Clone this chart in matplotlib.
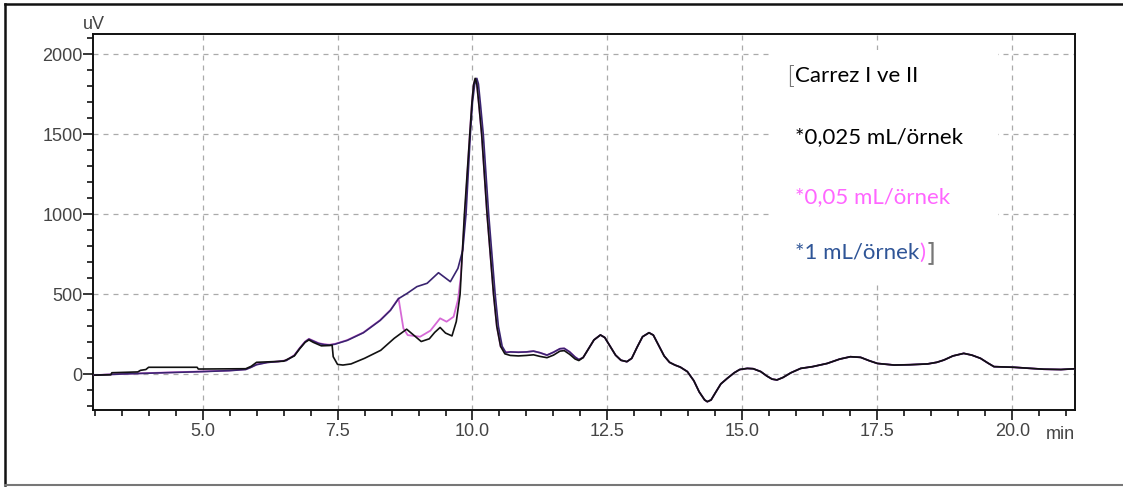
import matplotlib
matplotlib.use("Agg")
import matplotlib.pyplot as plt
from matplotlib.ticker import MultipleLocator, FixedLocator
from matplotlib.patches import Rectangle
from matplotlib.lines import Line2D

plt.rcParams["font.family"] = ["Liberation Sans", "DejaVu Sans"]

# retention time (min) and detector signal (uV) for the three Carrez volumes
# 0,025 mL/örnek
t_black = [3.0, 3.3, 3.32, 3.8, 3.85, 3.95, 4.0, 4.9, 4.92, 5.8, 5.9, 6.0, 6.5,
           6.7, 6.8, 6.9, 6.97, 7.05, 7.2, 7.35, 7.40, 7.42, 7.5, 7.6, 7.75,
           8.0, 8.3, 8.55, 8.78, 8.9, 9.05, 9.2, 9.3, 9.4, 9.5, 9.62, 9.7,
           9.77, 9.85, 9.95, 9.99, 10.02, 10.05, 10.08, 10.12, 10.17, 10.22,
           10.27, 10.33, 10.39, 10.45, 10.52, 10.6]
v_black = [-5, -3, 10, 15, 25, 30, 44, 44, 33, 35, 50, 75, 82,
           115, 160, 200, 215, 200, 178, 180, 182, 110, 62, 58, 65,
           100, 150, 225, 282, 248, 205, 222, 262, 293, 258, 240, 330,
           500, 1000, 1500, 1700, 1810, 1850, 1815, 1680, 1500, 1250,
           1000, 750, 500, 300, 175, 128]

# 0,05 mL/örnek
t_pink = [3.0, 3.5, 4.0, 4.5, 5.0, 5.5, 5.8, 5.9, 6.0, 6.2, 6.4, 6.55, 6.7,
          6.8, 6.9, 6.97, 7.05, 7.15, 7.25, 7.35, 7.45, 7.68, 7.98, 8.29,
          8.48, 8.63, 8.72, 8.8, 9.03, 9.22, 9.4, 9.52, 9.65, 9.73, 9.78,
          9.86, 9.95, 9.99, 10.02, 10.05, 10.08, 10.12, 10.17, 10.22, 10.27,
          10.33, 10.39, 10.45, 10.52, 10.6]
v_pink = [-5, 3, 8, 13, 18, 24, 32, 45, 62, 75, 80, 88, 120,
          165, 205, 222, 210, 195, 188, 185, 190, 214, 262, 339,
          402, 475, 287, 245, 235, 273, 350, 329, 360, 464, 600,
          1000, 1500, 1700, 1810, 1845, 1815, 1680, 1500, 1250, 1000,
          750, 500, 300, 175, 140]

# 1 mL/örnek
t_blue = [3.0, 3.5, 4.0, 4.5, 5.0, 5.5, 5.8, 5.9, 6.0, 6.2, 6.4, 6.55, 6.7,
          6.8, 6.9, 6.97, 7.05, 7.15, 7.25, 7.35, 7.45, 7.68, 7.98, 8.29,
          8.48, 8.63, 8.79, 8.97, 9.16, 9.37, 9.59, 9.73, 9.82, 9.88, 9.96,
          10.0, 10.04, 10.08, 10.11, 10.15, 10.2, 10.25, 10.3, 10.36, 10.42,
          10.48, 10.55, 10.62]
v_blue = [-5, 2, 7, 12, 17, 23, 30, 44, 60, 74, 80, 86, 118,
          163, 203, 220, 208, 193, 186, 183, 188, 212, 260, 337,
          400, 473, 506, 548, 569, 635, 579, 662, 777, 1000, 1500,
          1700, 1810, 1850, 1815, 1680, 1500, 1250, 1000, 750, 500,
          300, 175, 135]

# common tail after the main peak (upper / lower trace on the plateau)
t_plateau = [10.7, 10.85, 11.0, 11.13, 11.25, 11.38, 11.5, 11.62, 11.7,
             11.8, 11.9, 11.97]
v_plateau_hi = [140, 138, 140, 145, 135, 120, 138, 160, 162, 140, 108, 92]
v_plateau_lo = [118, 115, 118, 122, 112, 104, 120, 145, 148, 125, 96, 86]

t_tail = [12.05, 12.15, 12.25, 12.37, 12.45, 12.55, 12.65, 12.75, 12.86,
          12.95, 13.05, 13.15, 13.27, 13.35, 13.45, 13.55, 13.65, 13.75,
          13.85, 13.98, 14.1, 14.2, 14.3, 14.35, 14.42, 14.5, 14.6, 14.72,
          14.85, 14.95, 15.09, 15.2, 15.34, 15.45, 15.55, 15.64, 15.75,
          15.9, 16.08, 16.3, 16.57, 16.8, 17.0, 17.19, 17.35, 17.5, 17.81,
          18.1, 18.43, 18.6, 18.73, 18.9, 19.1, 19.25, 19.41, 19.55, 19.66,
          20.03, 20.3, 20.58, 20.9, 21.17]
v_tail = [105, 160, 215, 246, 230, 175, 120, 88, 79,
          100, 170, 235, 260, 245, 180, 115, 75, 58,
          45, 17, -40, -110, -160, -171, -160, -115, -60, -25,
          10, 30, 37, 35, 17, -10, -30, -35, -20,
          10, 37, 48, 68, 95, 110, 106, 85, 68, 58,
          60, 65, 75, 89, 115, 131, 120, 100, 70, 48,
          44, 38, 32, 30, 35]

x_ticks = [5.0, 7.5, 10.0, 12.5, 15.0, 17.5, 20.0]
x_labels = ["5.0", "7.5", "10.0", "12.5", "15.0", "17.5", "20.0"]
y_ticks = [0, 500, 1000, 1500, 2000]

legend_lines = ["Carrez I ve II", "*0,025 mL/örnek", "*0,05 mL/örnek", "*1 mL/örnek"]
legend_colors = ["#000000", "#000000", "#ff66ff", "#2f5597"]

fig = plt.figure(figsize=(11.23, 4.87), dpi=100)
ax = fig.add_axes([0.0828, 0.1581, 0.8749, 0.7721])

ax.plot(t_pink + t_plateau + t_tail, v_pink + v_plateau_hi + v_tail,
        color="#d66ad6", lw=1.3, zorder=3)
ax.plot(t_blue + t_plateau + t_tail, v_blue + v_plateau_hi + v_tail,
        color="#3a2470", lw=1.2, zorder=4)
ax.plot(t_black + t_plateau + t_tail, v_black + v_plateau_lo + v_tail,
        color="#111111", lw=1.2, zorder=5)

ax.set_xlim(2.97, 21.17)
ax.set_ylim(-223, 2127)

ax.xaxis.set_major_locator(FixedLocator(x_ticks))
ax.set_xticklabels(x_labels)
ax.xaxis.set_minor_locator(MultipleLocator(0.5))
ax.yaxis.set_major_locator(FixedLocator(y_ticks))
ax.yaxis.set_minor_locator(MultipleLocator(100))

ax.tick_params(which="major", direction="out", length=7, width=1.1,
               labelsize=13, labelcolor="#444444", pad=2)
ax.tick_params(which="minor", direction="out", length=4, width=1.1)
ax.tick_params(axis="y", pad=0.5)

for sp in ax.spines.values():
    sp.set_linewidth(1.4)
    sp.set_color("#111111")

ax.grid(True, which="major", color="#aaaaaa", lw=0.9, ls=(0, (4, 4)))
ax.set_axisbelow(True)

ax.text(-0.01, 1.024, "uV", transform=ax.transAxes, fontsize=13,
        color="#444444", ha="left", va="center")
ax.text(0.985, -0.042, "min", transform=ax.transAxes, fontsize=13,
        color="#444444", ha="center", va="top")

# white label box over the grid
ax.add_patch(Rectangle((0.692, 0.332), 0.229, 0.625, transform=ax.transAxes,
                       facecolor="white", edgecolor="none", zorder=2))
y_pos = [0.888, 0.726, 0.566, 0.418]
txts = []
for s, c, y in zip(legend_lines, legend_colors, y_pos):
    txts.append(ax.text(0.7145, y, s, transform=ax.transAxes, color=c,
                        fontsize=16, family="Lato", va="center", zorder=6))
ax.text(0.7155, 0.886, "[", transform=ax.transAxes, color="#777777",
        fontsize=18, family="DejaVu Sans", va="center", ha="right",
        fontweight="light", zorder=6)
br = ax.annotate(")", xy=(1, 0.5), xycoords=txts[-1], color="#ff66ff",
                 fontsize=16, family="Lato", va="center", ha="left", zorder=6)
ax.annotate("]", xy=(1, 0.5), xycoords=br, color="#777777",
            fontsize=18, family="DejaVu Sans", va="center", ha="left", zorder=6)

# outer frame around the figure
fig.add_artist(Line2D([5 / 1123, 1], [1 - 4 / 487] * 2, transform=fig.transFigure,
                      color="#111111", lw=1.8))
fig.add_artist(Line2D([5 / 1123] * 2, [2 / 487, 1 - 4 / 487], transform=fig.transFigure,
                      color="#111111", lw=1.8))
fig.add_artist(Line2D([5 / 1123, 1], [2 / 487] * 2, transform=fig.transFigure,
                      color="#777777", lw=1.5))

fig.savefig("out.png", dpi=100)
